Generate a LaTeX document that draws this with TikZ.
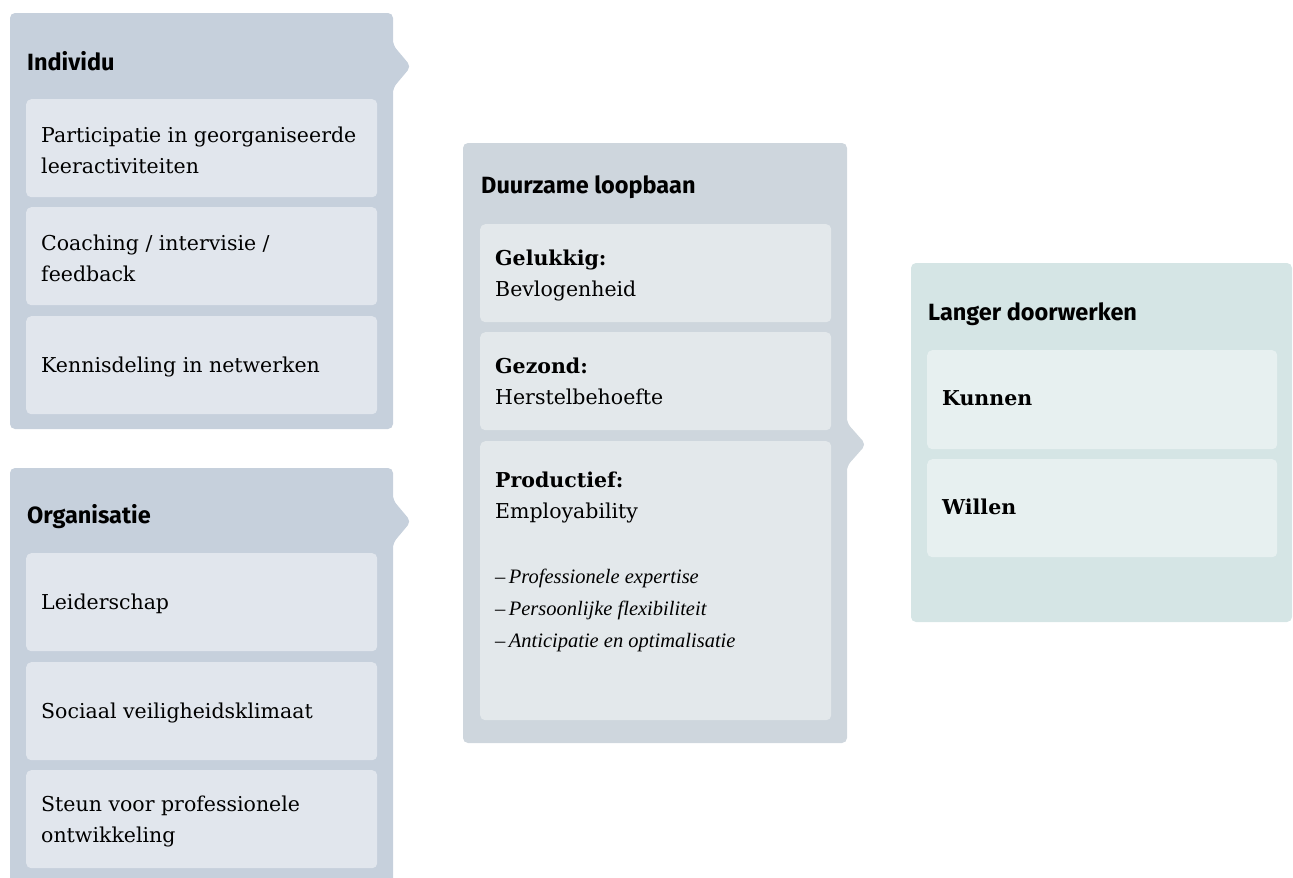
\documentclass[tikz,border=0pt]{standalone}
\usepackage{fontspec}
\setmainfont{DejaVu Serif}
\newfontfamily\headfont{Fira Sans}
\newfontfamily\listfont{Liberation Serif}

\definecolor{indpanel}{HTML}{C6D0DC}
\definecolor{inditem}{HTML}{E1E6ED}
\definecolor{durpanel}{HTML}{CED6DD}
\definecolor{duritem}{HTML}{E3E8EB}
\definecolor{lanpanel}{HTML}{D5E5E5}
\definecolor{lanitem}{HTML}{E7F0F0}

\tikzset{
  panel/.style={rounded corners=5pt},
  itembox/.style={rounded corners=5pt, anchor=north west, inner sep=0pt,
    minimum width=351pt, minimum height=98pt},
  headtext/.style={anchor=base west, inner sep=0pt,
    font=\headfont\bfseries\fontsize{23.5}{28}\selectfont},
  itemtext/.style={anchor=base west, inner sep=0pt, align=left,
    font=\fontsize{20.5}{31}\selectfont},
  listtext/.style={anchor=base west, inner sep=0pt, align=left,
    font=\listfont\itshape\fontsize{20.5}{32}\selectfont}
}

\begin{document}
\begin{tikzpicture}[x=1pt,y=-1pt]
\useasboundingbox (0,0) rectangle (1293,878);
\clip (0,0) rectangle (1293,878);

% individu
\fill [panel, fill=indpanel] (10,13) -- (393,13) -- (393,45) -- (411,66.5)
  -- (393,88) -- (393,429) -- (10,429) -- cycle;
\node [headtext] (ind) at (27,70) {Individu};
\node [itembox, fill=inditem] (ind1) at (26,99) {};
\node [itembox, fill=inditem] (ind2) at (26,207) {};
\node [itembox, fill=inditem] (ind3) at (26,316) {};
\node [itemtext] at ([xshift=15pt,yshift=-74pt]ind1.north west)
  {Participatie in georganiseerde\\leeractiviteiten};
\node [itemtext] at ([xshift=15pt,yshift=-74pt]ind2.north west)
  {Coaching / intervisie /\\feedback};
\node [itemtext] at ([xshift=15pt,yshift=-56pt]ind3.north west)
  {Kennisdeling in netwerken};

% organisatie
\fill [panel, fill=indpanel] (10,468) -- (393,468) -- (393,500) -- (411,521.5)
  -- (393,543) -- (393,900) -- (10,900) -- cycle;
\node [headtext] (org) at (27,523) {Organisatie};
\node [itembox, fill=inditem] (org1) at (26,553) {};
\node [itembox, fill=inditem] (org2) at (26,662) {};
\node [itembox, fill=inditem] (org3) at (26,770) {};
\node [itemtext] at ([xshift=15pt,yshift=-56pt]org1.north west) {Leiderschap};
\node [itemtext] at ([xshift=15pt,yshift=-56pt]org2.north west)
  {Sociaal veiligheidsklimaat};
\node [itemtext] at ([xshift=15pt,yshift=-72pt]org3.north west)
  {Steun voor professionele\\ontwikkeling};

% duurzame loopbaan
\fill [panel, fill=durpanel] (463,143) -- (847,143) -- (847,423) -- (866,444.5)
  -- (847,466) -- (847,743) -- (463,743) -- cycle;
\node [headtext] (dur) at (481,193) {Duurzame loopbaan};
\node [itembox, fill=duritem] (geluk) at (480,224) {};
\node [itembox, fill=duritem] (gezond) at (480,332) {};
\node [itembox, fill=duritem, minimum height=279pt] (prod) at (480,441) {};
\node [itemtext] at ([xshift=15pt,yshift=-72pt]geluk.north west)
  {\textbf{Gelukkig:}\\Bevlogenheid};
\node [itemtext] at ([xshift=15pt,yshift=-72pt]gezond.north west)
  {\textbf{Gezond:}\\Herstelbehoefte};
\node [itemtext] at ([xshift=15pt,yshift=-77pt]prod.north west)
  {\textbf{Productief:}\\Employability};
\node [listtext] at ([xshift=15pt,yshift=-206pt]prod.north west)
  {–\,Professionele expertise\\–\,Persoonlijke flexibiliteit\\–\,Anticipatie en optimalisatie};

% langer doorwerken
\fill [panel, fill=lanpanel] (911,263) rectangle (1292,622);
\node [headtext] (lang) at (928,320) {Langer doorwerken};
\node [itembox, fill=lanitem, minimum width=350pt, minimum height=99pt] (kun) at (927,350) {};
\node [itembox, fill=lanitem, minimum width=350pt] (wil) at (927,459) {};
\node [itemtext] at ([xshift=15pt,yshift=-55pt]kun.north west) {\textbf{Kunnen}};
\node [itemtext] at ([xshift=15pt,yshift=-55pt]wil.north west) {\textbf{Willen}};
\end{tikzpicture}
\end{document}
